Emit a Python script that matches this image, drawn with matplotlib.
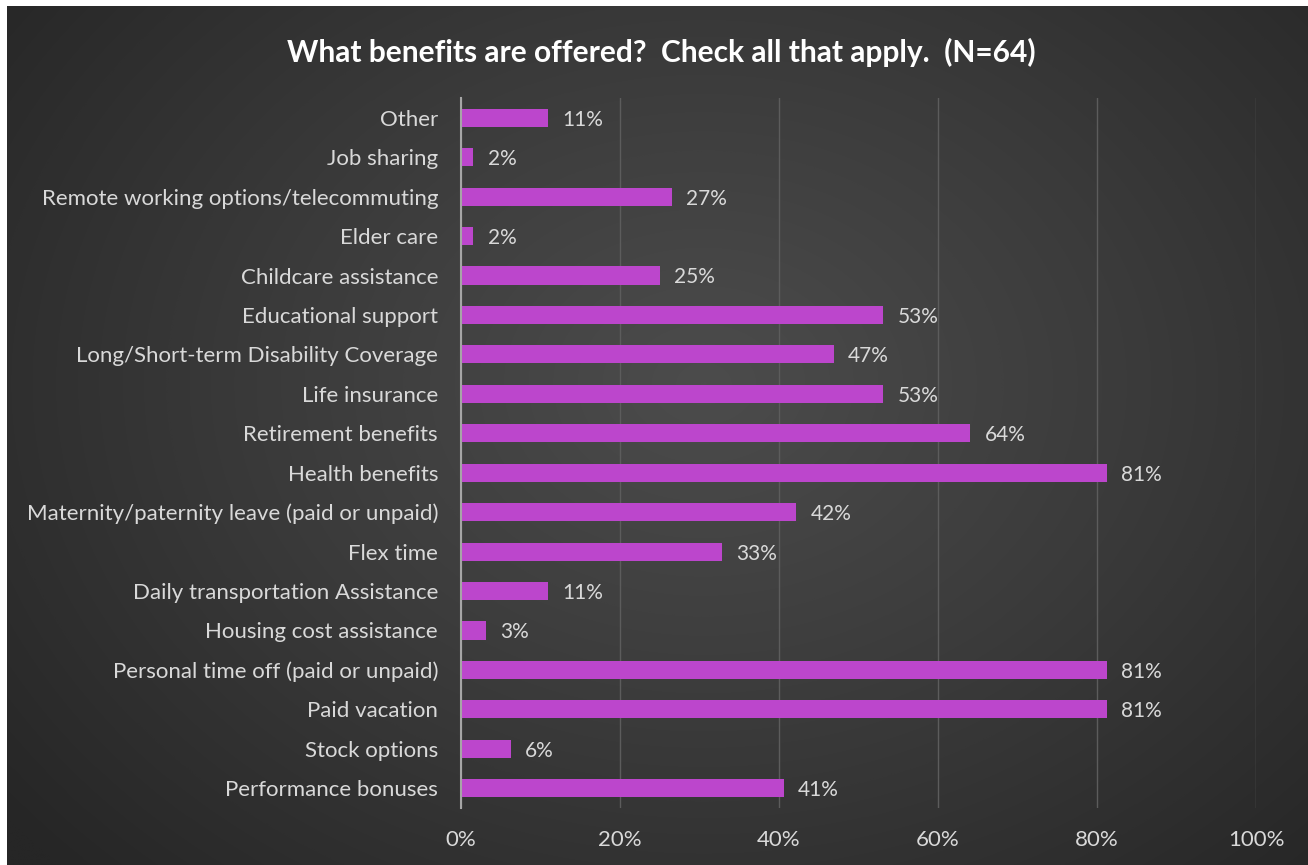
import numpy as np
import matplotlib
matplotlib.use("Agg")
import matplotlib.pyplot as plt
from matplotlib.colors import LinearSegmentedColormap

# survey responses, N = 64, listed bottom to top
n_total = 64
benefits = [
    "Performance bonuses",
    "Stock options",
    "Paid vacation",
    "Personal time off (paid or unpaid)",
    "Housing cost assistance",
    "Daily transportation Assistance",
    "Flex time",
    "Maternity/paternity leave (paid or unpaid)",
    "Health benefits",
    "Retirement benefits",
    "Life insurance",
    "Long/Short-term Disability Coverage",
    "Educational support",
    "Childcare assistance",
    "Elder care",
    "Remote working options/telecommuting",
    "Job sharing",
    "Other",
]
counts = [26, 4, 52, 52, 2, 7, 21, 27, 52, 41, 34, 30, 34, 16, 1, 17, 1, 7]
pct = [100.0 * c / n_total for c in counts]

x_ticks = [0, 20, 40, 60, 80, 100]

plt.rcParams["font.family"] = ["Lato", "DejaVu Sans"]
text_col = "#d9d9d9"
bar_col = "#bc46cc"

W, H = 1308, 865
fig = plt.figure(figsize=(W / 100, H / 100), dpi=100)
fig.patch.set_facecolor("white")

# dark radial-gradient backdrop
bg = fig.add_axes([7 / W, 0, 1 - 7 / W, 1 - 6 / H])
bg.set_axis_off()
yy, xx = np.mgrid[0:H, 0:W]
cx, cy = 700, 380
r = np.sqrt(((xx - cx) / 900.0) ** 2 + ((yy - cy) / 700.0) ** 2)
r = np.clip(r, 0, 1)
cmap = LinearSegmentedColormap.from_list("bg", ["#4c4c4c", "#3a3a3a", "#262626"])
bg.imshow(r, cmap=cmap, aspect="auto", extent=[0, 1, 0, 1], vmin=0, vmax=1)
bg.set_zorder(0)

# plot area
left, right = 461 / W, 1256 / W
top, bottom = 1 - 98 / H, 1 - 808 / H
ax = fig.add_axes([left, bottom, right - left, top - bottom])
ax.set_facecolor("none")
ax.set_zorder(1)

y = np.arange(len(benefits))
ax.barh(y, pct, height=0.46, color=bar_col, zorder=3)

for yi, p in zip(y, pct):
    ax.text(p + 1.8, yi - 0.05, f"{round(p):.0f}%", va="center", ha="left",
            color=text_col, fontsize=15, zorder=4)

ax.set_xlim(0, 100)
ax.set_ylim(-0.5, len(benefits) - 0.5)
ax.set_xticks(x_ticks)
ax.set_xticklabels([f"{t}%" for t in x_ticks])
ax.set_yticks(y)
ax.set_yticklabels(benefits)
ax.tick_params(axis="both", length=0, colors=text_col, labelsize=16)
ax.tick_params(axis="y", pad=16.5)
ax.tick_params(axis="x", pad=16)

ax.grid(axis="x", color="#5c5c5c", linewidth=1, zorder=0)
for s in ["top", "right", "bottom"]:
    ax.spines[s].set_visible(False)
ax.spines["left"].set_color("#a6a6a6")
ax.spines["left"].set_linewidth(1.5)
ax.spines["left"].set_zorder(5)

fig.text(661 / W, 1 - 52 / H, "What benefits are offered?  Check all that apply.  (N=64)",
         ha="center", va="center", color="white", fontsize=21.5, fontweight="bold")

fig.savefig("out.png", dpi=100, facecolor=fig.get_facecolor())
